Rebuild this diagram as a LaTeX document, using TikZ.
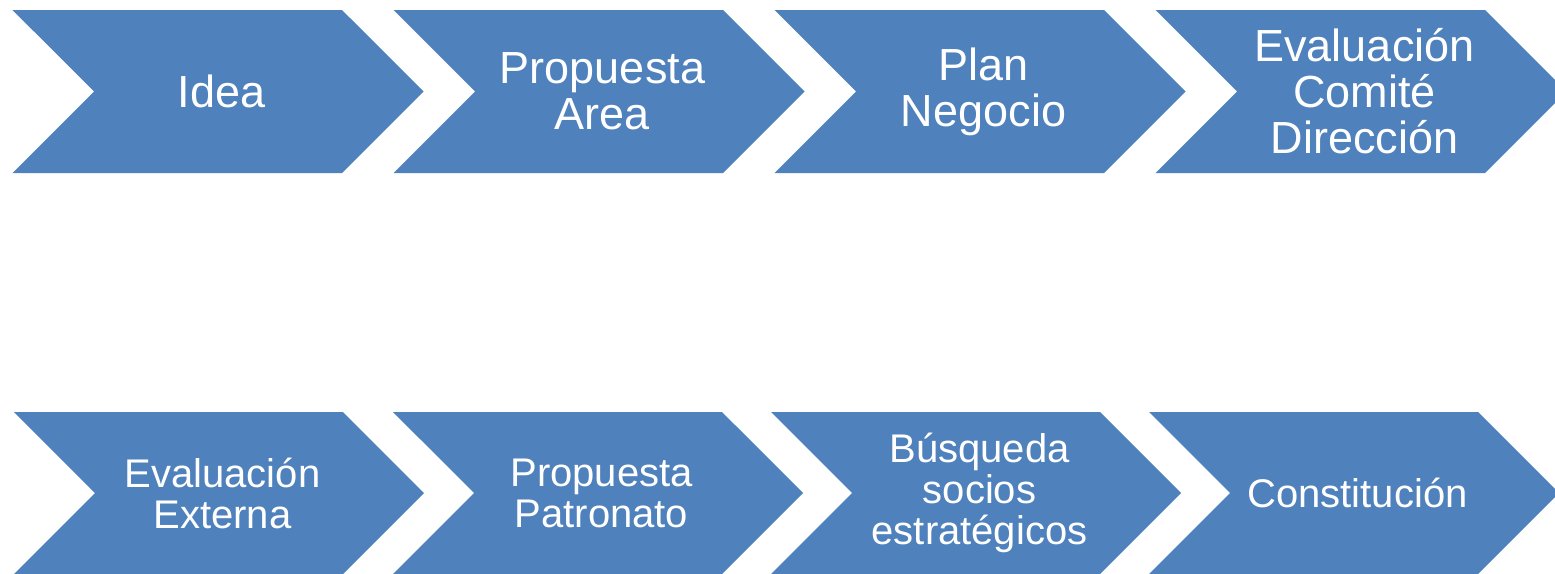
\documentclass[tikz,border=0pt]{standalone}
\usepackage{fontspec}
\setmainfont{Liberation Sans}
\usetikzlibrary{shapes.symbols}
\definecolor{stageblue}{HTML}{4F81BD}

\begin{document}
\begin{tikzpicture}[x=1pt,y=-1pt,
  stage/.style={signal,signal from=west,signal to=east,signal pointer angle=90,
    fill=stageblue,draw=none,inner sep=0pt,minimum width=411pt,minimum height=163pt},
  low stage/.style={stage,minimum height=162pt,minimum width=410pt},
  top text/.style={text=white,align=center,inner sep=0pt,xshift=3.5pt,
    font=\fontsize{45}{46}\selectfont},
  low text/.style={top text,font=\fontsize{40}{41}\selectfont}]

  \useasboundingbox (0,0) rectangle (1555,573);

  % first row
  \node[stage,label={[top text]center:Idea}] (idea) at (218,91.5) {};
  \node[stage,label={[top text]center:Propuesta\\Area}] (area) at (599,91.5) {};
  \node[stage,label={[top text]center:Plan\\Negocio}] (plan) at (980,91.5) {};
  \node[stage,label={[top text]center:Evaluación\\Comité\\Dirección}] (comite) at (1361,91.5) {};

  % second row
  \node[low stage,label={[low text]center:Evaluación\\Externa}] (externa) at (219,493) {};
  \node[low stage,label={[low text]center:Propuesta\\Patronato}] (patronato) at (598,493) {};
  \node[low stage,label={[low text]center:Búsqueda\\socios\\estratégicos}] (socios) at (976,493) {};
  \node[low stage,label={[low text]center:Constitución}] (constitucion) at (1354,493) {};
\end{tikzpicture}
\end{document}
